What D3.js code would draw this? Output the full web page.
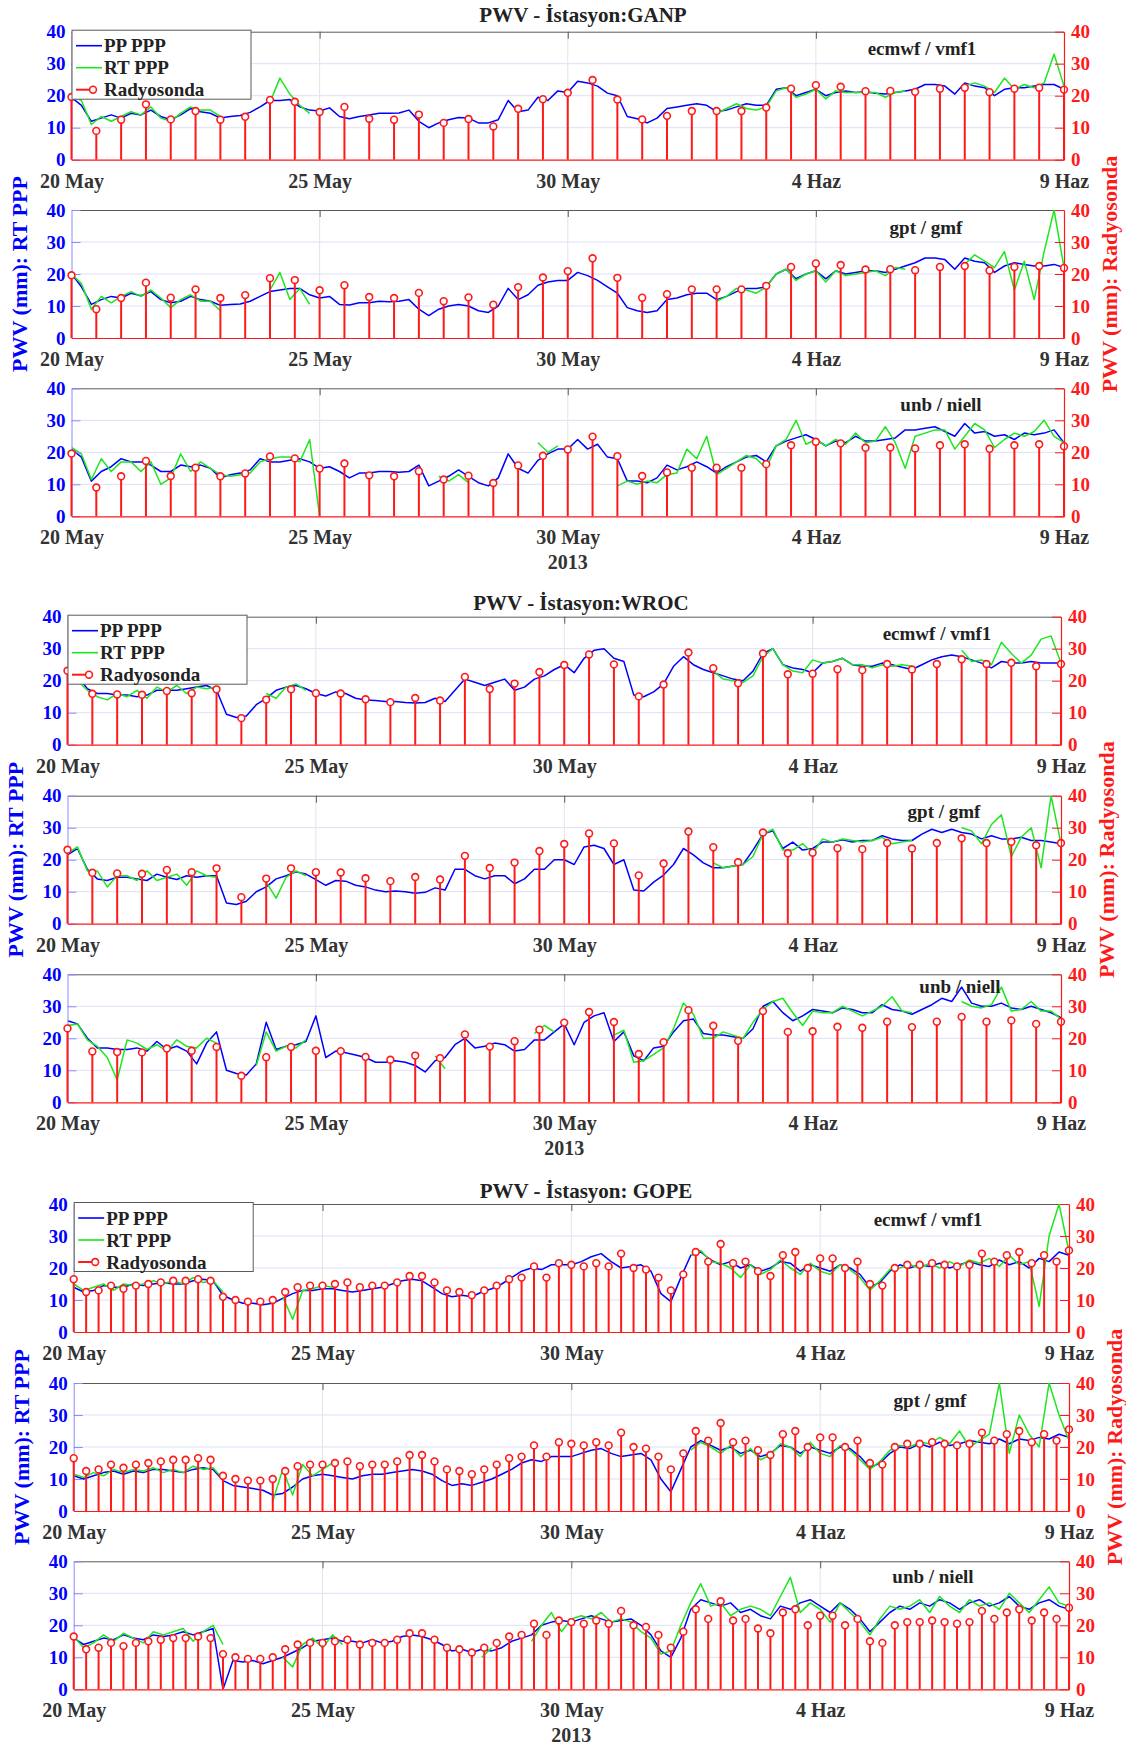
<!DOCTYPE html>
<html><head><meta charset="utf-8">
<script src="https://cdn.jsdelivr.net/npm/d3@7"></script>
<style>
body{margin:0;background:#fff}
svg{display:block}
text{font-family:"Liberation Serif","Times New Roman",serif;font-weight:bold}
</style>
</head><body>
<svg id="c" width="1126" height="1749"></svg>
<script>
// ---------------- DATA ----------------
const START = Date.UTC(2013, 4, 20);
const END = Date.UTC(2013, 5, 9);
const DAY = 864e5;
const tickDays = [0, 5, 10, 15, 20];
const tickLabels = ["20 May", "25 May", "30 May", "4 Haz", "9 Haz"];
const yTicks = [0, 10, 20, 30, 40];
const yearLabel = "2013";
const titles = ["PWV - İstasyon:GANP", "PWV - İstasyon:WROC", "PWV - İstasyon: GOPE"];
const models = ["ecmwf / vmf1", "gpt / gmf", "unb / niell"];
const legendLabels = ["PP PPP", "RT PPP", "Radyosonda"];
const leftLabel = "PWV (mm): RT PPP";
const rightLabel = "PWV (mm): Radyosonda";
const seriesStepDays = 0.2;

// radiosonde (12-hourly for GANP, WROC; 6-hourly for GOPE)
const ganpSondeStep = 0.5;
const ganpSonde = [19.6,9.0,12.5,17.3,12.6,15.2,12.5,13.4,18.7,18.1,
 14.9,16.5,12.8,12.5,14.1,11.5,12.7,10.4,15.9,18.9,
 20.9,24.9,18.8,12.6,13.7,15.2,15.2,15.2,16.3,22.2,
 23.3,22.8,21.4,21.5,21.2,22.2,22.5,21.1,22.2,22.5,
 21.9];
const wrocSondeStep = 0.5;
const wrocSonde = [23.1,15.9,15.7,15.6,16.8,16.1,17.3,8.3,14.1,17.3,
 16.1,16.0,14.2,13.3,14.6,13.8,21.2,17.4,19.1,22.7,
 24.9,28.2,25.1,15.1,18.8,28.8,23.9,19.2,28.5,22.0,
 22.2,23.6,23.3,25.2,23.5,25.2,26.7,25.2,25.6,24.5,
 25.2];
const gopeSondeStep = 0.25;
const gopeSonde = [16.5,12.5,13,14.5,13.5,14.5,15,15.5,16,16,
 16.5,16,11,10,9.5,9.5,10,12.5,14,14.5,
 14.5,15,15.5,14,14.5,14.5,15.5,17.5,17.5,15.5,
 13,12.5,11.5,13,14.5,16.5,17,20.5,17,21.5,
 21,20.5,21.5,20.5,24.5,20,19.5,17,13,18,
 25,22,27.5,21.5,22,19,17.5,24,25,20,
 23,23,20,22,15,14.5,20,21,21,21.5,
 21,20.5,21,24.5,22,24,25,21.5,24,22,
 25.5];

// GANP
const ganpEcmwfPP = [19.5,17,12,13,14,13,14.5,14,15.5,13.5,
 12.5,14,16,15,14.5,13,13.5,13.8,14.8,16.5,
 18.5,18.5,18.8,16.5,15.5,15.2,16.2,13.5,12.8,13.5,
 14,14.5,14.5,14.6,15.5,12,10,11.5,12.5,13.2,
 13,11.5,11.5,12.5,18.5,15,15.5,19.5,18.5,21.5,
 21,24.5,24,23,20.8,20,13.5,12.8,11.5,13,
 16,16.5,17,17.5,17,15,15.5,16.5,17.5,17,
 17,22,22.5,20,21,22,20,21,21.5,21,
 21.2,20.8,20.5,21,21.5,22,23.5,23.5,23,20.5,
 24,23,22.5,20,22,22.5,22.5,23,23.5,23.5,22];
const ganpEcmwfRT = [20,18.5,11,13.5,12,13.5,15,14,16.5,13,
 12,14.5,16.5,15.5,15.5,13.5,null,null,null,null,
 18,25.5,20.5,17,14.5,null,null,null,null,null,
 null,null,null,null,null,null,null,null,null,null,
 null,null,null,null,null,null,null,null,null,null,
 null,null,null,null,null,null,null,null,null,null,
 null,null,null,null,null,14.5,16,17.5,16,15.5,
 16.5,21.5,22.5,19.5,20.5,22,19,21.5,21,21,
 21,21,19.5,21,21.5,null,null,null,null,null,
 23,24,23,21,25.5,22,23.5,22.5,24,33,23];
const ganpGptPP = [20,16,10.5,12,13,12.5,14,13.2,14.5,12,
 11,11.5,13,12,11.5,10.2,10.5,10.6,11.5,13,
 14.5,15,15.5,15.5,13.5,12.5,13,10.5,10.3,11,
 11,11.5,11.3,11.5,12,9,7,9,10,10.5,
 10,8.5,8,10,15.5,12,13.5,16.5,17.5,18,
 18,20.5,19.5,18,16,14,9.5,8.5,8,8.5,
 12,12.5,13.5,14,14,12,13,14.5,15.5,15.5,
 16,20,21.5,18.5,20,21,18.5,21,20,20.5,
 21,21,20.5,21.5,22.5,23.5,25,25,24.5,21.5,
 25,24,23.5,20.5,22.5,23.5,23,22.5,22.5,23,22];
const ganpGptRT = [20,17,9,13,11,13,14.5,13,15,12.5,
 9.5,12,13.5,11.5,11.5,8.5,null,null,null,null,
 15,20.5,12,15.5,10.5,null,null,null,null,null,
 null,null,null,null,null,null,null,null,null,null,
 null,null,null,null,null,null,null,null,null,null,
 null,null,null,null,null,null,null,null,null,null,
 null,null,null,null,null,11.5,13,15.5,15,14,
 16,20,21.5,18,20,21,17.5,21,19.5,20,
 20.5,21,19.5,22,21.5,null,null,null,null,null,
 23,26,24,22,27,15,24,12,27,40,22];
const ganpUnbPP = [21,18.5,11,14,15.5,18,17,17,16,14,
 14,16,15.5,16,15,12,13,13.5,14.5,18,
 17,17,17.5,18,17,15,15.5,14,12,13.5,
 13.5,14,14,13.8,14,16,9.5,11,12.5,14.5,
 12.5,10.5,9.5,12,19.5,15,13.5,17.5,19.5,21,
 21,24,21,22.5,18.5,18,11,11,10.5,12,
 16,14.5,15.5,17,15.5,13.5,15.5,17,18.5,19,
 17,22,23.5,24.5,25.5,24,22,23.5,23,25,
 23.5,23.5,24,24.5,27,27,27.5,28,26.5,25,
 29,26,26.5,25,25.5,24,26,25.5,26,27,23];
const ganpUnbRT = [21.5,19.5,11.5,18,14,17,17,14,17,10,
 12,19.5,14,17,15,13,12.5,13,13.5,17,
 18,18.5,18.5,17,24,0,null,null,null,null,
 null,null,null,null,null,null,null,12.5,11,13,
 10.5,null,null,null,null,null,null,23,20,22,
 null,null,null,null,null,9.5,11,10,11,10.5,
 13,13.5,21,18,25,13,15,17,19,18,
 15,22,24,30,22.5,24,22,24,22.5,26,
 23,23.5,28,23,15,25,26,27,27,21,
 25,29,27,21.5,24,26,25,26.5,30,25,23];

// WROC
const wrocEcmwfPP = [23,21.5,17.5,16,16,15.5,15.5,15,15.5,17,
 17,17,17.5,18,18.5,17,9.5,8.5,9,12.5,
 14.5,17,18,18.5,17.5,16,15.2,16.5,16,14.5,
 14,13.8,13.5,13.5,13.2,13,13.2,14.5,13.5,17,
 20.5,19.5,18.5,19.5,20.5,17,18,20.5,21.5,23.5,
 25,22.5,27,29.5,30,27,26,15.5,15,16.5,
 19,24.5,27.5,25,23.5,22.5,21.5,20.5,20,23,
 28.5,30,25,24,23.5,22.5,25.5,26,27,25,
 24.5,24.5,25.5,25,24.2,23.5,25,26.5,27.5,28,
 27.5,26.5,25.5,24,26,25.5,25.5,26,25.5,25.5,25.5];
const wrocEcmwfRT = [22,20,17,15,14,16,15,17,14.5,18,
 16.5,18.5,16,18,17.5,18,null,null,null,null,
 16,14.5,18,19,17,null,null,null,null,null,
 null,null,null,null,null,null,null,null,null,null,
 null,null,null,null,null,null,null,null,null,null,
 null,null,null,null,null,null,null,null,null,null,
 null,null,null,null,null,23,20.5,20,19.5,21.5,
 27.5,30,25,23,22.5,26.5,25.5,26,27,25,
 25,24,25,24.5,25,24.5,null,null,null,null,
 29.5,26,26.5,25,32,28.5,25.5,28,33,34,25.5];
const wrocGptPP = [21.5,23.5,17,14,13.5,14.5,14.5,14,13.5,15.5,
 14.5,13.8,15,14.5,15,15,6.5,6,7,10,
 11.5,14,15,16.2,15.5,13.8,12,13.5,13.3,12,
 11.5,10.5,10,10.2,10,9.5,9.8,11.2,10.5,17,
 17,15,14,15,15,12.5,14,17,17,20,
 20,18.5,24,24.5,23.5,18.5,20,10.5,10.2,13,
 15.2,18.5,23.5,21.5,19,17.5,17.5,18,18.5,23,
 28,29,23.5,25.5,23,23.5,25.5,25.5,26.2,25.5,
 26,26,27.5,26.5,26,26,28,29.5,28.5,29.5,
 28.5,28,26.5,27.5,26.5,26.5,27,26,26,25.5,25];
const wrocGptRT = [22,24,16.5,16.5,11.5,15,15,13.5,16.5,13.5,
 14.5,15.5,12,16.5,15,14.5,null,null,null,null,
 13,8,14.5,16.5,15,null,null,null,null,null,
 null,null,null,null,null,null,null,null,null,null,
 null,null,null,null,null,null,null,null,null,null,
 null,null,null,null,null,null,null,null,null,null,
 null,null,null,null,null,19,17.5,18,18.5,21,
 28,29.5,23,23,25,22,26.5,25.5,26.5,26,
 25.5,26,27,25,25.5,26,null,null,null,null,
 30,29,25,31,34,21,27,30,17.5,40,25];
const wrocUnbPP = [25.5,24.5,20,17,17,16.5,16.5,17,16,19,
 16.5,17.5,16,12,18.5,22,10,9,8.5,12,
 25,16.5,17.5,18,19,27,14,16,15.5,14.8,
 14,12.5,12.5,13,12.5,11.5,9.5,13,14,18,
 20,17,17.5,18.5,18,16,16.5,19.5,19.5,22,
 24.5,18,25,27,28,19,22,14.5,13,17,
 17.5,22,25.5,26,21.5,21,21,20.5,20,23,
 30,31.5,28,25.5,27,29,28.5,28,29.5,29,
 28,28,30.5,29,28.5,27.5,29,30.5,32.5,31.5,
 36,31,30,30,31,29.5,29,30,29,28,26.5];
const wrocUnbRT = [24,24.5,19.5,17.5,14,7,19.5,18.5,16.5,18,
 16,19.5,17.5,17,20,18.5,null,null,null,11.5,
 22,16,17.5,17,19.5,null,null,null,null,null,
 null,null,null,null,null,null,null,14.5,10.5,null,
 null,null,null,null,null,null,null,21.5,24,22,
 null,null,null,null,null,21,22.5,12.5,13,15,
 17,23,31,27.5,20,20,22,21,20,25,
 29,31.5,32.5,28,24,28.5,28,28,30,28.5,
 27,28.5,30,33,28.5,28,null,null,null,null,
 31.5,30,29.5,30.5,36,28.5,29,31.5,28.5,28.5,26];

// GOPE
const gopeEcmwfPP = [14,12.5,13,14.5,14,14,15,14.5,15,15.5,
 15,15,16,16.5,16,11.5,10,9,9,8.5,
 9,10.5,12,13,13,13.5,13.5,13,12.5,13,
 13.5,14,15,16,16.5,16,14,12,11,11.5,
 11,12.5,13.5,15,17,19,20,19.5,21,21,
 21,22,23.5,24.5,22,20,20.5,21,19,12,
 9.5,17,24,25,22.5,21,22,20,21,19,
 20,22,21.5,19,21,20,19,21,20,18,
 14,15.5,19,21,20,21,20.5,21.5,20,21,
 22,21,20.5,22.5,21,22,20,23,22,25,24];
const gopeEcmwfRT = [15,13,14,15,13,15,14.5,15,16,15,
 16,15,17,15.5,16,12.5,null,null,null,null,
 null,11,4,13,13.5,14.5,14,null,null,null,
 null,null,null,null,null,null,null,null,null,null,
 null,null,null,null,null,null,null,null,null,null,
 null,null,null,null,null,null,null,null,null,null,
 null,null,24,25.5,22,21.5,20,17,21,18,
 19.5,22.5,20,18,21.5,19,18,21,19.5,17,
 13,16,19.5,20,21,20,21.5,20,22,20.5,
 22.5,21.5,23,20.5,24,21,22,8,30,40,25];
const gopeGptPP = [11,10,11,12,12.5,11.5,12.5,12,13,13,
 12.5,12,13,13.5,13,9.5,8,7.5,7,6.5,
 5,5.5,7.5,10,11,11.5,11,10.5,10,11,
 11.5,11.5,12,12.5,13,12.5,11.5,9.5,8,8.5,
 8,9,10,11.5,13,15,16,15.5,17,17,
 17,18,19,19.5,18,17,17.5,18,16,10,
 6,13,20,22,20.5,19,20,18,19,17,
 18,20.5,20,18,20,19,18,20,19.5,17,
 13.5,15,18,20,19.5,21,20,21.5,20.5,21,
 22,21.5,21,22.5,21,22.5,22,23,22.5,24,23];
const gopeGptRT = [11.5,10.5,12,11,13,12,13,12.5,13.5,12,
 13,12,14,13,13.5,10,null,null,null,null,
 3,13,5,14.5,11,13,15,null,null,null,
 null,null,null,null,null,null,null,null,null,null,
 null,null,null,null,null,null,null,null,null,null,
 null,null,null,null,null,null,null,null,null,null,
 null,null,19,21.5,20,18,20.5,17,19.5,16,
 17.5,21,20,17,21.5,18,17,20.5,19,16,
 13,15.5,19,20.5,20,21.5,21,23,21,25,
 20,22,24,40,18,30,24,20,40,30,22];
const gopeUnbPP = [16,14,15,16,15.5,17,16,15.5,17,16.5,
 17,18,17,18,19,0,9,8.5,9,8,
 9,10,11.5,13,15,15.5,16,15,15,14.5,
 15.5,14.5,15,16.5,17,16.5,15.5,14,12,12.5,
 11.5,12.5,12,13,15,16,17,20,21,21.5,
 21,22,23,22,21,21.5,22,20,17,12,
 10,16,25,28,27,26,27,24,25,23,
 22,26,25,27,28,26,24,27,25,22,
 18,21,24,26,25,27,26,28,27,25,
 27,28,26,27,29,26,25,27,28,26,25];
const gopeUnbRT = [16.5,13,14.5,17,15,17.5,16,14.5,18,17,
 18,19,15,18,20,14,null,null,null,null,
 null,10,7,14,16,13,17,14,null,null,
 null,null,null,null,null,null,null,null,null,null,
 null,10,13,null,null,null,15,20,24,18,
 22,23,22,24,21,22,21,18,16,11,
 12,20,27,33,26,27,23,25,26,25,
 23,29,35,24,27,25,21,27,24,21,
 17,22,26,25,26,28,24,29,26,24,
 28,26,27,25,30,27,24,28,32,27,26];

const stationSonde = [[ganpSonde, ganpSondeStep], [wrocSonde, wrocSondeStep], [gopeSonde, gopeSondeStep]];
const stationSeries = [
  [[ganpEcmwfPP, ganpEcmwfRT], [ganpGptPP, ganpGptRT], [ganpUnbPP, ganpUnbRT]],
  [[wrocEcmwfPP, wrocEcmwfRT], [wrocGptPP, wrocGptRT], [wrocUnbPP, wrocUnbRT]],
  [[gopeEcmwfPP, gopeEcmwfRT], [gopeGptPP, gopeGptRT], [gopeUnbPP, gopeUnbRT]]
];

// ---------------- LAYOUT / STYLE ----------------
const PH = 128;
const layout = [
  {left: 71.5, right: 1064, tops: [31.7, 210, 388.3], titleX: 583, titleY: 22, annX: [922, 926, 941], annDy: [17, 18, 17]},
  {left: 67.5, right: 1061, tops: [616.7, 795.7, 974.3], titleX: 581, titleY: 610, annX: [937, 944, 960], annDy: [17, 16, 13]},
  {left: 73.7, right: 1069, tops: [1204, 1383, 1561.3], titleX: 586, titleY: 1198, annX: [928, 930, 933], annDy: [16, 18, 16]}
];
const C = {blue: "#0000ff", green: "#1ee61e", red: "#ff1a1a", grid: "#dfdff6", vgrid: "#e4e4e4",
  leftAxis: "#8a8aff", border: "#5a5a5a", text: "#333333"};

const svg = d3.select("#c");
const defs = svg.append("defs");
const tickDates = tickDays.map(d => new Date(START + d * DAY));

function toSeries(vals, step) {
  return vals.map((v, i) => ({t: new Date(START + i * step * DAY), v}));
}

layout.forEach((L, gi) => {
  const [sondeVals, sondeStep] = stationSonde[gi];
  const sonde = toSeries(sondeVals, sondeStep);
  const x = d3.scaleUtc().domain([START, END]).range([L.left, L.right]);

  L.tops.forEach((top, k) => {
    const bottom = top + PH;
    const y = d3.scaleLinear().domain([0, 40]).range([bottom, top]);
    const clipId = `clip${gi}_${k}`;
    defs.append("clipPath").attr("id", clipId).append("rect")
      .attr("x", L.left).attr("y", top).attr("width", L.right - L.left).attr("height", PH);

    const g = svg.append("g");
    g.append("g").selectAll("line").data(yTicks.slice(1, -1)).join("line")
      .attr("x1", L.left).attr("x2", L.right).attr("y1", d => y(d)).attr("y2", d => y(d))
      .attr("stroke", C.grid).attr("stroke-width", 1);
    g.append("g").selectAll("line").data(tickDates.slice(1, -1)).join("line")
      .attr("x1", d => x(d)).attr("x2", d => x(d)).attr("y1", top).attr("y2", bottom)
      .attr("stroke", C.vgrid).attr("stroke-width", 1);

    const topAxis = g.append("g").attr("transform", `translate(0,${top})`)
      .call(d3.axisTop(x).tickValues(tickDates.slice(1, -1)).tickSize(-7).tickSizeOuter(0).tickFormat(""));
    topAxis.select(".domain").attr("stroke", C.border);
    topAxis.selectAll(".tick line").attr("stroke", C.border);

    const [pp, rt] = stationSeries[gi][k];
    const line = d3.line().defined(d => d.v != null).x(d => x(d.t)).y(d => y(d.v));
    const lines = g.append("g").attr("clip-path", `url(#${clipId})`);
    lines.append("path").datum(toSeries(pp, seriesStepDays)).attr("d", line)
      .attr("fill", "none").attr("stroke", C.blue).attr("stroke-width", 1.5).attr("stroke-linejoin", "round");
    lines.append("path").datum(toSeries(rt, seriesStepDays)).attr("d", line)
      .attr("fill", "none").attr("stroke", C.green).attr("stroke-width", 1.5).attr("stroke-linejoin", "round");

    const la = g.append("g").attr("transform", `translate(${L.left},0)`)
      .call(d3.axisLeft(y).tickValues(yTicks).tickSize(-9).tickSizeOuter(0).tickPadding(6));
    la.select(".domain").attr("stroke", C.leftAxis);
    la.selectAll(".tick line").attr("stroke", C.leftAxis);
    la.selectAll(".tick text").attr("fill", C.blue).style("font-size", "19px")
      .style("font-family", '"Liberation Serif",serif').style("font-weight", "bold");

    const st = g.append("g");
    st.selectAll("line").data(sonde).join("line")
      .attr("x1", d => x(d.t)).attr("x2", d => x(d.t)).attr("y1", y(0)).attr("y2", d => y(d.v))
      .attr("stroke", C.red).attr("stroke-width", 2);
    st.selectAll("circle").data(sonde).join("circle")
      .attr("cx", d => x(d.t)).attr("cy", d => y(d.v)).attr("r", 3.4)
      .attr("fill", "#fff").attr("stroke", C.red).attr("stroke-width", 1.6);

    const ra = g.append("g").attr("transform", `translate(${L.right},0)`)
      .call(d3.axisRight(y).tickValues(yTicks).tickSize(-9).tickSizeOuter(0).tickPadding(7));
    ra.select(".domain").attr("stroke", C.red).attr("stroke-width", 1.2);
    ra.selectAll(".tick line").attr("stroke", C.red);
    ra.selectAll(".tick text").attr("fill", C.red).style("font-size", "19px")
      .style("font-family", '"Liberation Serif",serif').style("font-weight", "bold");

    const xa = g.append("g").attr("transform", `translate(0,${bottom})`)
      .call(d3.axisBottom(x).tickValues(tickDates).tickFormat((d, i) => tickLabels[i]).tickSize(0).tickPadding(14));
    xa.select(".domain").attr("stroke", C.red).attr("stroke-width", 1.2);
    xa.selectAll(".tick text").attr("fill", C.text).style("font-size", "20px")
      .style("font-family", '"Liberation Serif",serif').style("font-weight", "bold");

    g.append("text").attr("x", L.annX[k]).attr("y", top + L.annDy[k] + 6)
      .attr("text-anchor", "middle").attr("fill", "#222").style("font-size", "19px").text(models[k]);

    if (k === 2) {
      g.append("text").attr("x", x(tickDates[2])).attr("y", bottom + 53)
        .attr("text-anchor", "middle").attr("fill", C.text).style("font-size", "20px").text(yearLabel);
    }

    if (k === 0) {
      const lg = g.append("g");
      const lx = L.left + 0.5, ly = top - 1.5;
      lg.append("rect").attr("x", lx).attr("y", ly).attr("width", 179).attr("height", 69)
        .attr("fill", "#fff").attr("stroke", C.border).attr("stroke-width", 1);
      const cols = [C.blue, C.green, C.red];
      legendLabels.forEach((lab, j) => {
        const yy = top + 14 + j * 22;
        if (j < 2) {
          lg.append("line").attr("x1", lx + 4).attr("x2", lx + 30).attr("y1", yy).attr("y2", yy)
            .attr("stroke", cols[j]).attr("stroke-width", 1.6);
        } else {
          lg.append("line").attr("x1", lx + 4).attr("x2", lx + 20).attr("y1", yy).attr("y2", yy)
            .attr("stroke", cols[j]).attr("stroke-width", 2);
          lg.append("circle").attr("cx", lx + 21).attr("cy", yy).attr("r", 3.4)
            .attr("fill", "#fff").attr("stroke", C.red).attr("stroke-width", 1.6);
        }
        lg.append("text").attr("x", lx + 32).attr("y", yy + 6.5).attr("fill", "#222")
          .style("font-size", "19px").text(lab);
      });
    }
  });

  svg.append("text").attr("x", L.titleX).attr("y", L.titleY).attr("text-anchor", "middle")
    .attr("fill", "#222").style("font-size", "21px").text(titles[gi]);

  const midY = L.tops[1] + PH / 2;
  const lx = L.left - 52, rx = L.right + 45;
  svg.append("text").attr("transform", `translate(${lx},${midY}) rotate(-90)`)
    .attr("text-anchor", "middle").attr("dominant-baseline", "central")
    .attr("fill", C.blue).style("font-size", "22px").text(leftLabel);
  svg.append("text").attr("transform", `translate(${rx},${midY}) rotate(-90)`)
    .attr("text-anchor", "middle").attr("dominant-baseline", "central")
    .attr("fill", C.red).style("font-size", "22px").text(rightLabel);
});
</script>
</body></html>
